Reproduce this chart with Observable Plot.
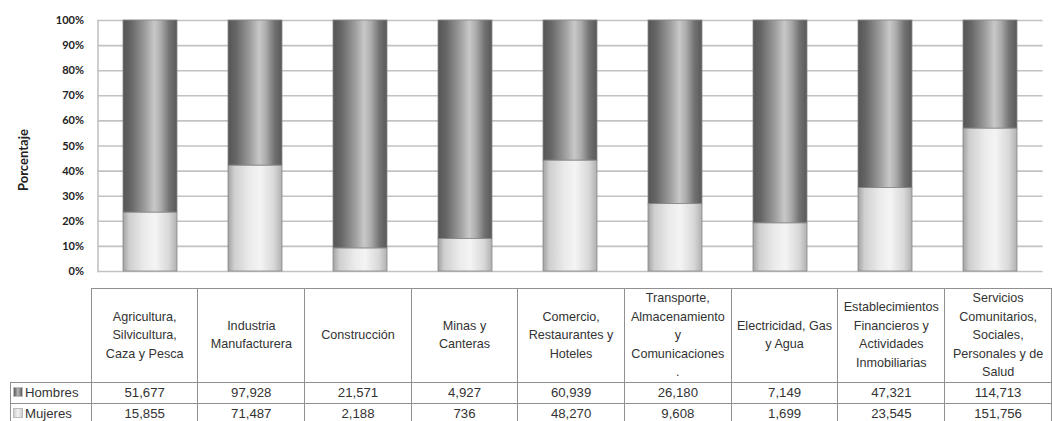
<!DOCTYPE html>
<html>
<head>
<meta charset="utf-8">
<script src="https://cdn.jsdelivr.net/npm/d3@7"></script>
<script src="https://cdn.jsdelivr.net/npm/@observablehq/plot@0.6"></script>
<style>
  html, body { margin: 0; padding: 0; background: #fff; overflow: hidden; }
  #wrap { position: relative; width: 1052px; height: 421px; }
  #chart { position: absolute; left: 0; top: 0; }
  #tbl { position: absolute; left: 10px; top: 288px; border-collapse: collapse; table-layout: fixed;
         font-family: "Liberation Sans", Arial, sans-serif; color: #333; }
  #tbl td { border: 1.5px solid #909090; text-align: center; padding: 0; }
  #tbl td.blank { border: none; }
  #tbl td.hdr { height: 88px; font-size: 12.6px; line-height: 18.5px; white-space: pre-line; vertical-align: middle; }
  #tbl td.val { height: 20px; font-size: 13.2px; }
  #tbl td.lab { text-align: left; font-size: 13.2px; padding-left: 2px; white-space: nowrap; }
  .key { display: inline-block; width: 8px; height: 8px; margin-right: 2px; vertical-align: 0px; border: 1px solid #bbb; }
</style>
</head>
<body>
<div id="wrap">
  <div id="chart"></div>
  <table id="tbl"></table>
</div>
<script>
const categories = [
  "Agricultura,\nSilvicultura,\nCaza y Pesca",
  "Industria\nManufacturera",
  "Construcción",
  "Minas y\nCanteras",
  "Comercio,\nRestaurantes y\nHoteles",
  "Transporte,\nAlmacenamiento\ny\nComunicaciones\n.",
  "Electricidad, Gas\ny Agua",
  "Establecimientos\nFinancieros y\nActividades\nInmobiliarias",
  "Servicios\nComunitarios,\nSociales,\nPersonales y de\nSalud"
];
const seriesNames = ["Mujeres", "Hombres"];
const hombres = [51677, 97928, 21571, 4927, 60939, 26180, 7149, 47321, 114713];
const mujeres = [15855, 71487, 2188, 736, 48270, 9608, 1699, 23545, 151756];
const yTicks = [0, 0.1, 0.2, 0.3, 0.4, 0.5, 0.6, 0.7, 0.8, 0.9, 1];
const yLabel = "Porcentaje";

const rows = [];
categories.forEach((c, i) => {
  rows.push({category: c, series: "Mujeres", value: mujeres[i]});
  rows.push({category: c, series: "Hombres", value: hombres[i]});
});

const svg = Plot.plot({
  width: 1052,
  height: 285,
  marginLeft: 97.5,
  marginRight: 9.5,
  marginTop: 20,
  marginBottom: 14,
  style: {fontFamily: "Lato, 'Open Sans', sans-serif", fontSize: "11px", color: "#222", background: "#fff"},
  x: {type: "band", domain: categories, paddingInner: 0.49, paddingOuter: 0.245, axis: null},
  y: {domain: [0, 1], axis: null},
  color: {domain: seriesNames, range: ["url(#gLight)", "url(#gDark)"]},
  marks: [
    Plot.ruleY(yTicks, {stroke: "#c2c2c2", strokeWidth: 1.6}),
    Plot.frame({anchor: "left", stroke: "#c2c2c2", strokeWidth: 1.6}),
    Plot.barY(rows, Plot.stackY({offset: "normalize", x: "category", y: "value", fill: "series", z: "series",
      stroke: "#888", strokeWidth: 0.8})),
    Plot.axisY(yTicks, {tickFormat: d3.format(".0%"), tickSize: 0, tickPadding: 14, fontWeight: "bold",
      fontSize: 11, fill: "#222", label: null}),
    Plot.text([yLabel], {frameAnchor: "left", dx: -74, dy: 45, rotate: -90, fontWeight: "bold",
      fontSize: 13, fill: "#222", fontFamily: "Lato, 'Open Sans', sans-serif"})
  ]
});

const defs = d3.select(svg).insert("defs", ":first-child");
const gd = defs.append("linearGradient").attr("id", "gDark").attr("x1", "0").attr("x2", "1").attr("y1", "0").attr("y2", "0");
[[0, "#555"], [0.15, "#666"], [0.42, "#a0a0a0"], [0.58, "#c8c8c8"], [0.7, "#adadad"], [0.86, "#727272"], [1, "#585858"]]
  .forEach(([o, c]) => gd.append("stop").attr("offset", o).attr("stop-color", c));
const gl = defs.append("linearGradient").attr("id", "gLight").attr("x1", "0").attr("x2", "1").attr("y1", "0").attr("y2", "0");
[[0, "#a2a2a2"], [0.12, "#cfcfcf"], [0.4, "#ebebeb"], [0.6, "#f4f4f4"], [0.85, "#d8d8d8"], [1, "#b0b0b0"]]
  .forEach(([o, c]) => gl.append("stop").attr("offset", o).attr("stop-color", c));

document.getElementById("chart").appendChild(svg);

// data table
const fmt = d3.format(",");
const tbl = d3.select("#tbl");
const cg = tbl.append("colgroup");
cg.append("col").style("width", "81px");
categories.forEach(() => cg.append("col").style("width", "107px"));
const hr = tbl.append("tr");
hr.append("td").attr("class", "blank");
categories.forEach(c => hr.append("td").attr("class", "hdr").text(c));
const tableRows = [["Hombres", hombres, "linear-gradient(90deg,#5a5a5a,#b8b8b8,#5a5a5a)"],
                   ["Mujeres", mujeres, "linear-gradient(90deg,#cfcfcf,#f3f3f3,#cfcfcf)"]];
tableRows.forEach(([name, vals, bg]) => {
  const tr = tbl.append("tr");
  const lab = tr.append("td").attr("class", "lab val");
  lab.append("span").attr("class", "key").style("background", bg);
  lab.append("span").text(name);
  vals.forEach(v => tr.append("td").attr("class", "val").text(fmt(v)));
});
</script>
</body>
</html>
